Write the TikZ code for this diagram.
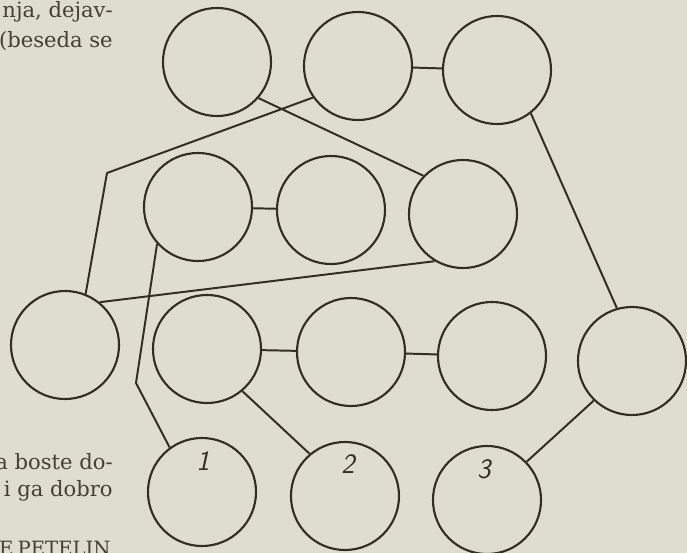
\documentclass[tikz,border=0pt]{standalone}
\usepackage{fontspec}
\setmainfont{DejaVu Serif}
\definecolor{paper}{RGB}{222,221,206}
\definecolor{ink}{RGB}{50,46,34}
\definecolor{print}{RGB}{68,64,52}
\tikzset{
	ring/.style={draw=ink, line width=1.5pt, circle, minimum size=2.7cm, inner sep=0pt},
	wire/.style={draw=ink, line width=1.4pt, line join=round},
	digit/.style={text=ink, font=\fontsize{20}{20}\sffamily\itshape, inner sep=0pt},
	pagetext/.style={text=print, font=\fontsize{15}{18}\selectfont, inner sep=0pt, anchor=base east}
}

\begin{document}
\begin{tikzpicture}[x=0.025cm, y=-0.025cm]
		%%%%% START %%%%%
		
		\fill[paper] (0, 0) rectangle (687, 553);
		\useasboundingbox (0, 0) rectangle (687, 553);
		
		% text of the page, cut at the left edge
		\node[pagetext] (txtA) at (113, 17) {nja, dejav-};
		\node[pagetext] (txtB) at (113, 47) {(beseda se};
		\node[pagetext] (txtC) at (113, 469) {a boste do-};
		\node[pagetext] (txtD) at (113, 496) {i ga dobro};
		\node[pagetext, font=\fontsize{14}{18}\selectfont] (txtE) at (111, 555) {E\hspace{0.2em}PETELIN};
		
		% top row
		\node[ring] (T1) at (217, 62) {};
		\node[ring] (T2) at (358, 66) {};
		\node[ring] (T3) at (497, 70) {};
		
		% middle row
		\node[ring] (M1) at (198, 207) {};
		\node[ring] (M2) at (331, 210) {};
		\node[ring] (M3) at (463, 214) {};
		
		% third row
		\node[ring] (L) at (65, 345) {};
		\node[ring] (R1) at (207, 349) {};
		\node[ring] (R2) at (351, 352) {};
		\node[ring] (R3) at (492, 356) {};
		\node[ring] (R4) at (632, 361) {};
		
		% bottom row
		\node[ring] (B1) at (202, 492) {};
		\node[ring] (B2) at (345, 496) {};
		\node[ring] (B3) at (487, 500) {};
		
		\node[digit] (num1) at (203, 461) {1};
		\node[digit] (num2) at (348, 464) {2};
		\node[digit] (num3) at (484, 469) {3};
		
		\coordinate (kinkA) at (107, 173);
		\coordinate (kinkB) at (136, 383);
		
		\draw[wire] (T2) -- (T3);
		\draw[wire] (M1) -- (M2);
		\draw[wire] (R1) -- (R2);
		\draw[wire] (R2) -- (R3);
		
		\draw[wire] (T1.-41) -- (M3.136);
		\draw[wire] (T2.-145) -- (kinkA) -- (L.68);
		\draw[wire] (L.51) -- (M3.-121);
		\draw[wire] (M1.-138) -- (kinkB) -- (B1.126);
		\draw[wire] (R1.-50) -- (B2.130);
		\draw[wire] (T3.-52) -- (R4.106);
		\draw[wire] (R4.-134) -- (B3.44);
		
		%%%%% END %%%%%
\end{tikzpicture}
\end{document}
